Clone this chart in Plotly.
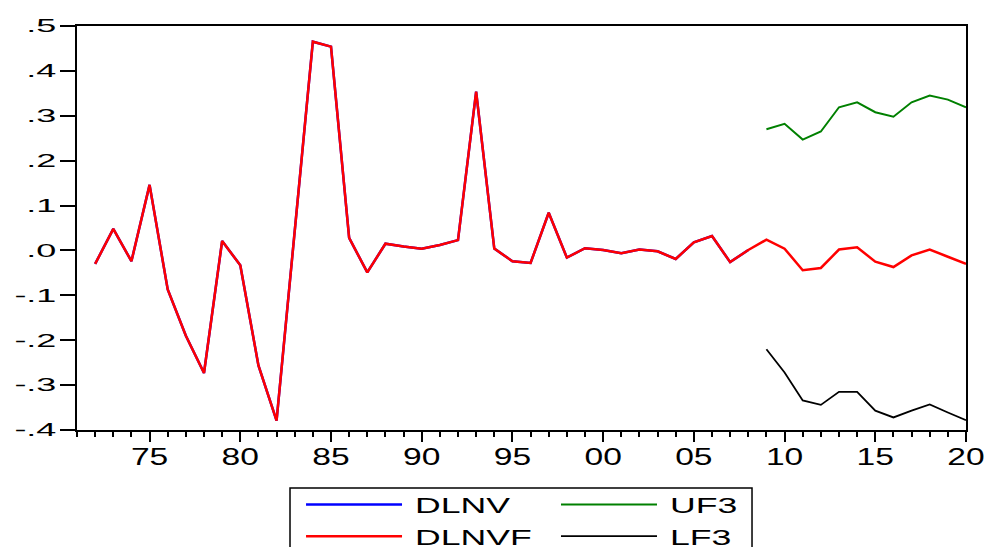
import plotly.graph_objects as go

years_all = list(range(1972, 2021))
years_hist = list(range(1972, 2009))
years_fc = list(range(2009, 2021))

dlnvf = [-0.030, 0.048, -0.024, 0.146, -0.087, -0.190, -0.273, 0.021, -0.033, -0.256,
         -0.379, 0.043, 0.465, 0.454, 0.028, -0.049, 0.015, 0.009, 0.004, 0.012,
         0.023, 0.354, 0.004, -0.024, -0.028, 0.084, -0.016, 0.005, 0.001, -0.006,
         0.002, -0.002, -0.019, 0.018, 0.032, -0.026, 0.001,
         0.024, 0.004, -0.044, -0.039, 0.002, 0.007, -0.025, -0.037, -0.011, 0.002, -0.014, -0.030]

dlnv = [-0.030, 0.048, -0.024, 0.146, -0.087, -0.190, -0.273, 0.021, -0.033, -0.256,
        -0.379, 0.043, 0.465, 0.454, 0.028, -0.049, 0.015, 0.009, 0.004, 0.012,
        0.023, 0.354, 0.004, -0.024, -0.028, 0.084, -0.016, 0.005, 0.001, -0.006,
        0.002, -0.002, -0.019, 0.018, 0.032, -0.026, 0.001]

uf3 = [0.270, 0.282, 0.247, 0.265, 0.319, 0.330, 0.308, 0.298, 0.330, 0.345, 0.336, 0.319]
lf3 = [-0.220, -0.272, -0.334, -0.344, -0.315, -0.315, -0.357, -0.372, -0.357, -0.343, -0.361, -0.378]

x_tickvals = [1975, 1980, 1985, 1990, 1995, 2000, 2005, 2010, 2015, 2020]
x_ticktext = ["75", "80", "85", "90", "95", "00", "05", "10", "15", "20"]
y_tickvals = [0.5, 0.4, 0.3, 0.2, 0.1, 0.0, -0.1, -0.2, -0.3, -0.4]
y_ticktext = [".5", ".4", ".3", ".2", ".1", ".0", "-.1", "-.2", "-.3", "-.4"]

fig = go.Figure()
fig.add_trace(go.Scatter(x=years_hist, y=dlnv, mode="lines", name="DLNV",
                         line=dict(color="#0000ff", width=2.5), legend="legend", legendrank=1))
fig.add_trace(go.Scatter(x=years_fc, y=uf3, mode="lines", name="UF3",
                         line=dict(color="#008000", width=2), legend="legend2", legendrank=1))
fig.add_trace(go.Scatter(x=years_all, y=dlnvf, mode="lines", name="DLNVF",
                         line=dict(color="#ff0000", width=2.5), legend="legend", legendrank=2))
fig.add_trace(go.Scatter(x=years_fc, y=lf3, mode="lines", name="LF3",
                         line=dict(color="#000000", width=1.8), legend="legend2", legendrank=2))

font_family = "Liberation Sans, Arial, sans-serif"
legend_font = dict(size=22, family=font_family, color="black")

fig.update_layout(
    width=986, height=547,
    margin=dict(l=77, r=20, t=26, b=117, autoexpand=False),
    paper_bgcolor="white", plot_bgcolor="white",
    font=dict(family=font_family, color="black"),
    showlegend=True,
    legend=dict(
        orientation="v", x=0.252, xanchor="left", y=-0.133, yanchor="top",
        borderwidth=0, bgcolor="rgba(0,0,0,0)", font=legend_font,
        itemwidth=96, tracegroupgap=0,
    ),
    legend2=dict(
        orientation="v", x=0.5388, xanchor="left", y=-0.133, yanchor="top",
        borderwidth=0, bgcolor="rgba(0,0,0,0)", font=legend_font,
        itemwidth=96, tracegroupgap=0,
    ),
    shapes=[dict(type="rect", xref="paper", yref="paper",
                 x0=0.2396, x1=0.7593, y0=-0.1436, y1=-0.40,
                 line=dict(color="black", width=1.5), fillcolor="rgba(0,0,0,0)")],
)

fig.update_xaxes(
    range=[1971, 2020], showgrid=False, zeroline=False,
    showline=True, linecolor="black", linewidth=2, mirror=True,
    tickmode="array", tickvals=x_tickvals, ticktext=x_ticktext,
    ticks="outside", ticklen=10, tickwidth=2, tickcolor="black",
    ticklabelstandoff=-6,
    tickfont=dict(size=24, family=font_family, color="black"),
    minor=dict(dtick=1, tick0=1971, ticks="outside", ticklen=5, tickwidth=2, tickcolor="black", showgrid=False),
)
fig.update_yaxes(
    range=[-0.4, 0.5], showgrid=False, zeroline=False,
    showline=True, linecolor="black", linewidth=2, mirror=True,
    tickmode="array", tickvals=y_tickvals, ticktext=y_ticktext,
    ticks="outside", ticklen=15, tickwidth=2, tickcolor="black",
    tickfont=dict(size=18, family=font_family, color="black"),
)

# The reference image's lettering is horizontally widened; widen the real SVG text to match.
post_js = """
var gd = document.getElementById('{plot_id}');
function widen(sel, s, dx) {
  gd.querySelectorAll(sel).forEach(function (t) {
    var cur = t.getAttribute('transform') || '';
    if (t.getAttribute('data-wt') === cur && cur !== '') { return; }
    var x = parseFloat(t.getAttribute('x') || '0');
    var nt = cur + ' translate(' + (x + dx) + ',0) scale(' + s + ',1) translate(' + (-x) + ',0)';
    t.setAttribute('transform', nt);
    t.setAttribute('data-wt', nt);
  });
}
function applyAll() {
  gd.querySelectorAll('g.infolayer > g[class^="legend"], g.infolayer > g[class^="legend"] .scrollbox').forEach(function (e) {
    e.removeAttribute('clip-path');
  });
  widen('.xtick text', 1.4, 0);
  widen('.ytick text', 2.0, 0);
  widen('g.infolayer > g[class^="legend"] g.traces text', 1.62, 8);
}
applyAll();
if (gd.on) { gd.on('plotly_afterplot', applyAll); }
setTimeout(applyAll, 50);
setTimeout(applyAll, 300);
"""

fig.write_html("out.html", post_script=post_js)
